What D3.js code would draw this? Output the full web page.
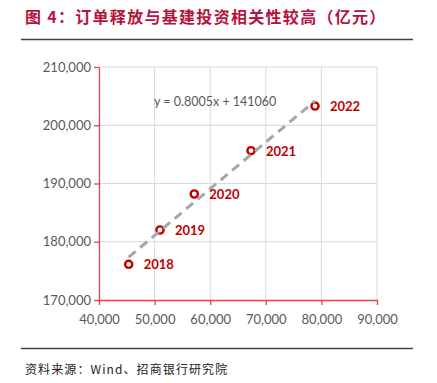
<!DOCTYPE html>
<html>
<head>
<meta charset="utf-8">
<script src="https://cdn.jsdelivr.net/npm/d3@7"></script>
<style>
  body { margin: 0; background: #fff; }
  svg { display: block; }
</style>
</head>
<body>
<svg id="vis" width="437" height="383"></svg>
<script>
// data (x: 订单, y: 基建投资, 亿元)
const years = ["2018", "2019", "2020", "2021", "2022"];
const xValues = [45340, 50970, 57140, 67340, 78850];
const yValues = [176130, 182020, 188200, 195630, 203300];
const xTicks = [40000, 50000, 60000, 70000, 80000, 90000];
const yTicks = [170000, 180000, 190000, 200000, 210000];
const slope = 0.8005;
const intercept = 141060;

function draw() {
    let svg = d3.select("#vis");
    let margin = { top: 67, right: 60, bottom: 83, left: 99 };
    let width = +svg.attr("width") - margin.left - margin.right;
    let height = +svg.attr("height") - margin.top - margin.bottom;

    // title
    svg.append("text")
        .attr("x", 25).attr("y", 23)
        .attr("fill", "#b5123e")
        .attr("font-family", "Noto Sans CJK SC")
        .attr("font-weight", "bold")
        .attr("font-size", 16)
        .attr("letter-spacing", 1.3)
        .text("图 4：订单释放与基建投资相关性较高（亿元）");

    svg.append("line")
        .attr("x1", 21).attr("x2", 413).attr("y1", 39.5).attr("y2", 39.5)
        .attr("stroke", "#404040").attr("stroke-width", 1.5);

    svg.append("line")
        .attr("x1", 21).attr("x2", 413).attr("y1", 348.5).attr("y2", 348.5)
        .attr("stroke", "#404040").attr("stroke-width", 1.5);

    svg.append("text")
        .attr("x", 25).attr("y", 374)
        .attr("fill", "#222")
        .attr("font-family", "Noto Sans CJK SC")
        .attr("font-size", 12)
        .attr("letter-spacing", 1.1)
        .text("资料来源：Wind、招商银行研究院");

    let g = svg.append("g").attr("transform", `translate(${margin.left}, ${margin.top})`);

    let x = d3.scaleLinear().domain([40000, 90000]).range([0, width]);
    let y = d3.scaleLinear().domain([170000, 210000]).range([height, 0]);

    // grid
    g.append("g")
        .selectAll("line")
        .data(xTicks.slice(1))
        .enter().append("line")
            .attr("x1", (d) => x(d)).attr("x2", (d) => x(d))
            .attr("y1", 0).attr("y2", height)
            .attr("stroke", "#d9d9d9");
    g.append("g")
        .selectAll("line")
        .data(yTicks.slice(1))
        .enter().append("line")
            .attr("x1", 0).attr("x2", width)
            .attr("y1", (d) => y(d)).attr("y2", (d) => y(d))
            .attr("stroke", "#d9d9d9");

    let fmt = d3.format(",");

    let xAxis = g.append("g")
        .attr("transform", `translate(0, ${height})`)
        .call(d3.axisBottom(x).tickValues(xTicks).tickFormat(fmt).tickSize(5).tickSizeOuter(0));
    let yAxis = g.append("g")
        .call(d3.axisLeft(y).tickValues(yTicks).tickFormat(fmt).tickSize(5).tickSizeOuter(0));

    [xAxis, yAxis].forEach((a) => {
        a.select(".domain").attr("stroke", "#ff3b3b").attr("stroke-width", 1.3);
        a.selectAll(".tick line").attr("stroke", "#ff3b3b").attr("stroke-width", 1.3);
        a.selectAll(".tick text")
            .attr("fill", "#595959")
            .attr("font-family", "Lato")
            .attr("font-size", 13);
    });
    xAxis.selectAll(".tick text").attr("dy", "1.2em");
    yAxis.selectAll(".tick text").attr("x", -8);

    let data = years.map((yr, i) => ({ year: yr, x: xValues[i], y: yValues[i] }));

    // markers
    g.selectAll(".pt")
        .data(data)
        .enter().append("circle")
            .attr("class", "pt")
            .attr("cx", (d) => x(d.x))
            .attr("cy", (d) => y(d.y))
            .attr("r", 3.6)
            .attr("fill", "#fff")
            .attr("stroke", "#c00000")
            .attr("stroke-width", 2.4);

    // trend line
    let x0 = d3.min(xValues), x1 = d3.max(xValues);
    g.append("line")
        .attr("x1", x(x0)).attr("y1", y(slope * x0 + intercept))
        .attr("x2", x(x1)).attr("y2", y(slope * x1 + intercept))
        .attr("stroke", "#a6a6a6")
        .attr("stroke-width", 3)
        .attr("stroke-dasharray", "9,6");

    g.append("text")
        .attr("x", 55).attr("y", 39)
        .attr("fill", "#595959")
        .attr("font-family", "Lato")
        .attr("font-size", 12.5)
        .text("y = 0.8005x + 141060");

    g.selectAll(".lbl")
        .data(data)
        .enter().append("text")
            .attr("class", "lbl")
            .attr("x", (d) => x(d.x) + 15)
            .attr("y", (d) => y(d.y) + 5)
            .attr("fill", "#c00000")
            .attr("font-family", "Lato")
            .attr("font-weight", "bold")
            .attr("font-size", 13)
            .text((d) => d.year);
}

document.addEventListener('DOMContentLoaded', () => {
    draw();
})
</script>
</body>
</html>
